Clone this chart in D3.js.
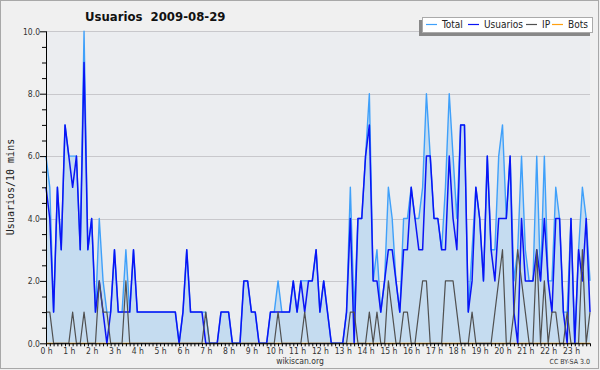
<!DOCTYPE html>
<html>
<head>
<meta charset="utf-8">
<script src="https://cdn.jsdelivr.net/npm/d3@7"></script>
<style>
  body { margin: 0; background: #efefef; }
  svg { display: block; }
  text { font-family: "DejaVu Sans Condensed", "DejaVu Sans", sans-serif; }
</style>
</head>
<body>
<div id="chart"></div>
<script>
// one value every 10 minutes, 0:00 .. 23:50
const usuarios = [5, 4, 1, 5, 3, 7, 6, 5, 6, 3, 9, 3, 4, 1, 2, 1, 0, 1, 3, 1, 1, 1, 1, 3,
  1, 1, 1, 1, 1, 1, 1, 1, 1, 1, 1, 0, 1, 3, 1, 1, 1, 1, 0, 0, 0, 0, 1, 1,
  1, 0, 0, 0, 2, 2, 1, 1, 0, 0, 0, 1, 1, 1, 1, 1, 1, 2, 1, 2, 1, 2, 2, 3,
  1, 2, 1, 0, 0, 0, 0, 1, 4, 0, 4, 4, 6, 7, 2, 2, 1, 2, 3, 3, 2, 1, 3, 3,
  5, 4, 3, 3, 6, 6, 4, 4, 3, 3, 6, 4, 3, 7, 7, 1, 2, 5, 4, 2, 6, 3, 2, 4,
  4, 4, 6, 1, 0, 4, 2, 2, 2, 3, 2, 4, 2, 1, 4, 4, 1, 0, 4, 0, 3, 2, 4, 1];
const ip = [1, 1, 0, 0, 0, 0, 0, 1, 0, 0, 1, 0, 0, 0, 2, 1, 1, 0, 0, 0, 0, 2, 0, 0,
  0, 0, 0, 0, 0, 0, 0, 0, 0, 0, 0, 0, 0, 0, 0, 0, 0, 0, 1, 0, 0, 0, 0, 0,
  0, 0, 0, 0, 0, 0, 0, 0, 0, 0, 0, 0, 0, 1, 0, 0, 0, 0, 0, 0, 1, 0, 0, 0,
  0, 0, 0, 0, 0, 0, 0, 0, 1, 1, 0, 0, 0, 1, 0, 1, 0, 0, 2, 1, 0, 0, 1, 1,
  0, 0, 1, 2, 2, 0, 0, 0, 0, 2, 2, 2, 1, 0, 0, 0, 1, 0, 0, 0, 0, 0, 1, 2,
  3, 0, 0, 1, 3, 2, 1, 0, 0, 3, 0, 2, 0, 1, 1, 0, 0, 1, 0, 0, 0, 3, 0, 1];
const total = [6, 5, 1, 5, 3, 7, 6, 6, 6, 3, 10, 3, 4, 1, 4, 2, 1, 1, 3, 1, 1, 3, 1, 3,
  1, 1, 1, 1, 1, 1, 1, 1, 1, 1, 1, 0, 1, 3, 1, 1, 1, 1, 1, 0, 0, 0, 1, 1,
  1, 0, 0, 0, 2, 2, 1, 1, 0, 0, 0, 1, 1, 2, 1, 1, 1, 2, 1, 2, 2, 2, 2, 3,
  1, 2, 1, 0, 0, 0, 0, 1, 5, 1, 4, 4, 6, 8, 2, 3, 1, 2, 5, 4, 2, 1, 4, 4,
  5, 4, 4, 5, 8, 6, 4, 4, 3, 5, 8, 6, 4, 7, 7, 1, 3, 5, 4, 2, 6, 3, 3, 6,
  7, 4, 6, 2, 3, 6, 3, 2, 2, 6, 2, 6, 2, 2, 5, 4, 1, 1, 4, 0, 3, 5, 4, 2];
const bots = new Array(144).fill(0);

const hourLabels = d3.range(24).map(h => h + ' h');
const yTicks = [0, 0.5, 1, 1.5, 2, 2.5, 3, 3.5, 4, 4.5, 5, 5.5, 6, 6.5, 7, 7.5, 8, 8.5, 9, 9.5, 10];
const yGrid = [2, 4, 6, 8, 10];

const series = [
  { name: 'Total', values: total, color: '#3fa0fa', width: 1.4 },
  { name: 'Usuarios', values: usuarios, color: '#0a14f5', width: 1.5 },
  { name: 'IP', values: ip, color: '#505050', width: 1.2 },
  { name: 'Bots', values: bots, color: '#ffa010', width: 1.2 }
];

const W = 600, H = 370,
  plotLeft = 46, plotRight = 590, plotTop = 31.3, plotBottom = 343.3;

let svg = d3.select('#chart').append('svg')
  .attr('width', W)
  .attr('height', H);

svg.append('rect')
  .attr('x', 0.5).attr('y', 0.5)
  .attr('width', W - 2).attr('height', H - 2)
  .attr('fill', '#f0f0f0')
  .attr('stroke', '#a8a8a8');

let x = d3.scaleLinear().domain([0, 143]).range([plotLeft, plotRight]);
let y = d3.scaleLinear().domain([0, 10]).range([plotBottom, plotTop]);

svg.append('rect')
  .attr('x', plotLeft).attr('y', plotTop)
  .attr('width', plotRight - plotLeft).attr('height', plotBottom - plotTop)
  .attr('fill', '#ebedf0');

svg.append('g')
  .selectAll('line')
  .data(yGrid)
  .enter()
  .append('line')
  .attr('x1', plotLeft).attr('x2', plotRight)
  .attr('y1', d => Math.round(y(d)) + 0.5)
  .attr('y2', d => Math.round(y(d)) + 0.5)
  .attr('stroke', '#c8c8cc');

// filled area under total
svg.append('path')
  .datum(total)
  .attr('fill', '#c5dcf0')
  .attr('d', d3.area()
    .x((d, i) => x(i))
    .y0(y(0))
    .y1(d => y(d)));

// draw order: bots below, then total, users, ip on top
[series[3], series[0], series[1], series[2]].forEach(s => {
  svg.append('path')
    .datum(s.values)
    .attr('fill', 'none')
    .attr('stroke', s.color)
    .attr('stroke-width', s.width)
    .attr('stroke-linejoin', 'round')
    .attr('d', d3.line()
      .x((d, i) => x(i))
      .y(d => y(d)));
});

// axes
let yAxis = svg.append('g')
  .attr('transform', `translate(${plotLeft},0)`)
  .call(d3.axisLeft(y)
    .tickValues(yTicks)
    .tickSize(4)
    .tickPadding(3)
    .tickFormat(d => d % 2 === 0 ? d.toFixed(1) : ''));
yAxis.selectAll('.tick line')
  .attr('x2', d => d % 2 === 0 ? -6 : -4);
yAxis.selectAll('text')
  .attr('x', -6)
  .attr('font-size', 8.5)
  .attr('fill', '#333')
  .style('font-family', '"DejaVu Sans Condensed", "DejaVu Sans", sans-serif');

let xAxis = svg.append('g')
  .attr('transform', `translate(0,${plotBottom})`)
  .call(d3.axisBottom(x)
    .tickValues(d3.range(0, 144))
    .tickSize(3)
    .tickPadding(2)
    .tickFormat(i => i % 6 === 0 ? hourLabels[i / 6] : ''));
xAxis.selectAll('text')
  .attr('font-size', 8.5)
  .attr('fill', '#333')
  .style('font-family', '"DejaVu Sans Condensed", "DejaVu Sans", sans-serif');
svg.selectAll('.domain')
  .attr('stroke', '#000');
xAxis.select('.domain').attr('d', `M${plotLeft},0.5H${plotRight}`);
yAxis.select('.domain').attr('d', `M0.5,${plotTop}V${plotBottom}`);

// title
svg.append('text')
  .attr('x', 85).attr('y', 21)
  .attr('font-size', 13)
  .attr('font-weight', 'bold')
  .attr('fill', '#111')
  .style('white-space', 'pre')
  .text('Usuarios  2009-08-29');

svg.append('text')
  .attr('transform', 'translate(14,187) rotate(-90)')
  .attr('text-anchor', 'middle')
  .attr('font-size', 10)
  .attr('fill', '#222')
  .style('font-family', '"DejaVu Sans Mono", monospace')
  .text('Usuarios/10 mins');

svg.append('text')
  .attr('x', 300).attr('y', 364)
  .attr('text-anchor', 'middle')
  .attr('font-size', 8.5)
  .attr('fill', '#333')
  .text('wikiscan.org');

svg.append('text')
  .attr('x', 590).attr('y', 364)
  .attr('text-anchor', 'end')
  .attr('font-size', 7)
  .attr('fill', '#333')
  .text('CC BY-SA 3.0');

// legend
let legend = svg.append('g');
legend.append('rect')
  .attr('x', 419).attr('y', 20)
  .attr('width', 171).attr('height', 16)
  .attr('fill', '#888');
legend.append('rect')
  .attr('x', 422.5).attr('y', 17.5)
  .attr('width', 170).attr('height', 15)
  .attr('fill', '#fff')
  .attr('stroke', '#aaa');

let legendX = [426, 468, 526, 552];
let items = legend.selectAll('g.item')
  .data(series)
  .enter()
  .append('g')
  .attr('transform', (d, i) => `translate(${legendX[i]},0)`);
items.append('line')
  .attr('x1', 0).attr('x2', 11)
  .attr('y1', 24.5).attr('y2', 24.5)
  .attr('stroke', d => d.color)
  .attr('stroke-width', 1.2);
items.append('text')
  .attr('x', 16)
  .attr('y', 28)
  .attr('font-size', 10)
  .attr('fill', '#222')
  .text(d => d.name);
</script>
</body>
</html>
